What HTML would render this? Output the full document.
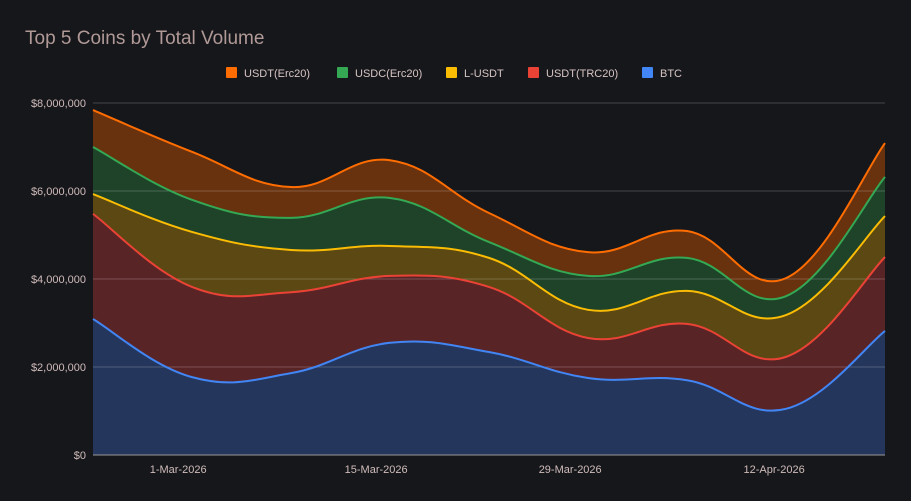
<!DOCTYPE html>
<html><head><meta charset="utf-8"><style>
html,body{margin:0;padding:0;background:#16171b;}
svg{display:block;font-family:"Liberation Sans",sans-serif;}
</style></head><body>
<svg id="c" width="911" height="501">
<rect width="911" height="501" fill="#16171b"/>
<text x="25" y="44" font-size="19" fill="#b09996">Top 5 Coins by Total Volume</text>
<g id="areas"></g><g id="grid"></g><g id="lines"></g><g id="axes"></g><g id="legend"></g>
</svg>
<script>
const categories=['23-Feb','2-Mar','9-Mar','16-Mar','23-Mar','30-Mar','6-Apr','13-Apr','20-Apr'];
const btc=[3.09,1.77,1.86,2.55,2.34,1.75,1.70,1.05,2.82];
const trc20=[2.39,2.05,1.84,1.52,1.48,0.91,1.28,1.18,1.68];
const lusdt=[0.45,1.25,0.96,0.68,0.66,0.64,0.75,0.95,0.93];
const usdc=[1.07,0.73,0.73,1.09,0.36,0.77,0.75,0.43,0.89];
const erc20=[0.84,1.09,0.70,0.86,0.66,0.54,0.61,0.41,0.77];
const yTicks=[0,2,4,6,8];
const yTickLabels=['$0','$2,000,000','$4,000,000','$6,000,000','$8,000,000'];
const xTickPos=[0.86,2.86,4.82,6.88];
const xTickLabels=['1-Mar-2026','15-Mar-2026','29-Mar-2026','12-Apr-2026'];
const seriesNames=['USDT(Erc20)','USDC(Erc20)','L-USDT','USDT(TRC20)','BTC'];
const NS='http://www.w3.org/2000/svg';
const X0=93,X1=885,Y0=455,Y1=103;
const xs=i=>X0+(X1-X0)*i/(categories.length-1);
const ys=v=>Y0-(Y0-Y1)*v/8;
function mk(t,a,p){const e=document.createElementNS(NS,t);for(const k in a)e.setAttribute(k,a[k]);document.getElementById(p).appendChild(e);return e;}
yTicks.forEach((t,i)=>{
 const l=mk('line',{x1:X0,x2:X1,y1:ys(t),y2:ys(t),stroke:t===0?'#9a9a9a':'rgba(255,255,255,0.2)','stroke-width':1},'grid');
 
 
 const tx=mk('text',{x:86,y:ys(t)+4,'text-anchor':'end','font-size':11,fill:'#d0bcba'},'axes');
 tx.textContent=yTickLabels[i];
 
 
});
xTickPos.forEach((p,i)=>{
 const tx=mk('text',{x:xs(p),y:473,'text-anchor':'middle','font-size':11,fill:'#d0bcba'},'axes');
 tx.textContent=xTickLabels[i];
 
 
});
const raw=[btc,trc20,lusdt,usdc,erc20];
const cum=[];let acc=categories.map(()=>0);
raw.forEach(s=>{acc=acc.map((a,i)=>a+s[i]);cum.push(acc.slice());});
function pathOf(pts){let d='M'+pts[0][0]+','+pts[0][1];
 for(let i=0;i<pts.length-1;i++){const p0=pts[Math.max(0,i-1)],p1=pts[i],p2=pts[i+1],p3=pts[Math.min(pts.length-1,i+2)];const k=0.2;
 d+=' C'+(p1[0]+(p2[0]-p0[0])*k)+','+(p1[1]+(p2[1]-p0[1])*k)+' '+(p2[0]-(p3[0]-p1[0])*k)+','+(p2[1]-(p3[1]-p1[1])*k)+' '+p2[0]+','+p2[1];}
 return d;}
const lineCol=['#4285f4','#ea4335','#fbbc04','#34a853','#ff6d01'];
const fillCol=['#24365c','#592426','#5b4813','#1e4329','#68320f'];
const names=['btc','usdt-trc20','l-usdt','usdc-erc20','usdt-erc20'];
for(let s=cum.length-1;s>=0;s--){
 const pts=cum[s].map((v,i)=>[xs(i),ys(v)]);
 const a=mk('path',{d:pathOf(pts)+' L'+X1+','+Y0+' L'+X0+','+Y0+' Z',fill:fillCol[s]},'areas');
 
 
 const l=mk('path',{d:pathOf(pts),fill:'none',stroke:lineCol[s],'stroke-width':2},'lines');
 
 
}
const lx=[226,337,446,528,642];const lc=['#ff6d01','#34a853','#fbbc04','#ea4335','#4285f4'];
seriesNames.forEach((n,i)=>{
 const r=mk('rect',{x:lx[i],y:67,width:11,height:11,rx:1,fill:lc[i]},'legend');
 
 
 const t=mk('text',{x:lx[i]+18,y:77,'font-size':11,fill:'#d7c5c3'},'legend');
 t.textContent=n;
 
 
});
</script>
</body></html>
